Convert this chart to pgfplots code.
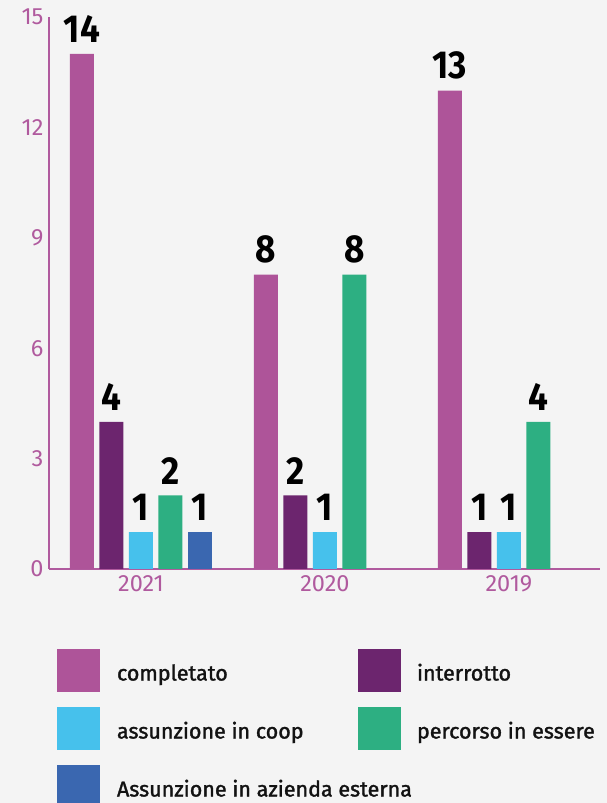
\documentclass[border=0pt]{standalone}
\usepackage{pgfplots}
\pgfplotsset{compat=1.18}
\usepackage{fontspec}
\setmainfont{Fira Sans}
\newfontfamily\numfont[FakeStretch=0.9]{Fira Sans}
\newfontfamily\legfont[FakeBold=1.5]{Fira Sans}
\definecolor{cA}{HTML}{AE5499}
\definecolor{cB}{HTML}{6C256E}
\definecolor{cC}{HTML}{46C1EC}
\definecolor{cD}{HTML}{2DAF82}
\definecolor{cE}{HTML}{3A67B0}
\definecolor{axc}{HTML}{B05A9E}
\definecolor{bg}{HTML}{F4F4F4}
\begin{document}
\begin{tikzpicture}
\fill[bg] (0,0) rectangle (607pt,803pt);
\begin{axis}[
  at={(49pt,234pt)}, anchor=south west,
  scale only axis, width=551pt, height=552pt,
  xmin=-0.5, xmax=2.495, ymin=0, ymax=15,
  axis x line=bottom, axis y line=left,
  axis line style={-, draw=axc, line width=2pt},
  ytick={0,3,6,9,12,15}, xtick={0,1,2}, xticklabels={2021,2020,2019},
  major tick length=0pt,
  tick label style={font=\fontsize{23.5}{28}\selectfont, text=axc},
  yticklabel style={xshift=-2pt},
  xticklabel style={yshift=-3pt},
  /pgf/number format/assume math mode=true,
  ybar, bar width=24pt,
  nodes near coords,
  every node near coord/.append style={font=\numfont\bfseries\fontsize{39}{44}\selectfont, text=black, inner sep=0pt, yshift=11pt},
  legend columns=2,
  legend style={at={(axis description cs:0.01452,-0.14493)}, anchor=north west, draw=none, fill=none, inner sep=0pt, outer sep=0pt, row sep=15pt, column sep=0pt, cells={anchor=base west, inner sep=0pt}, font=\legfont\fontsize{21.5}{25}\selectfont, text=black!93},
  every axis plot post/.append style={legend image code/.code={\fill[##1] (0pt,-11.5pt) rectangle (43pt,31.5pt);}},
]
\addplot[fill=cA, draw=none, bar shift=-59pt] coordinates {(0,14) (1,8) (2,13)};
\addplot[fill=cB, draw=none, bar shift=-29.5pt] coordinates {(0,4) (1,2) (2,1)};
\addplot[fill=cC, draw=none, bar shift=0pt] coordinates {(0,1) (1,1) (2,1)};
\addplot[fill=cD, draw=none, bar shift=29.5pt] coordinates {(0,2) (1,8) (2,4)};
\addplot[fill=cE, draw=none, bar shift=59pt] coordinates {(0,1)};
\legend{\makebox[254pt][l]{\hspace{15pt}completato}, \hspace{14pt}interrotto, \makebox[254pt][l]{\hspace{15pt}assunzione in coop}, \hspace{14pt}percorso in essere, \makebox[254pt][l]{\hspace{15pt}Assunzione in azienda esterna}}
\end{axis}
\pgfresetboundingbox
\path (0,0) rectangle (607pt,803pt);
\end{tikzpicture}
\end{document}
